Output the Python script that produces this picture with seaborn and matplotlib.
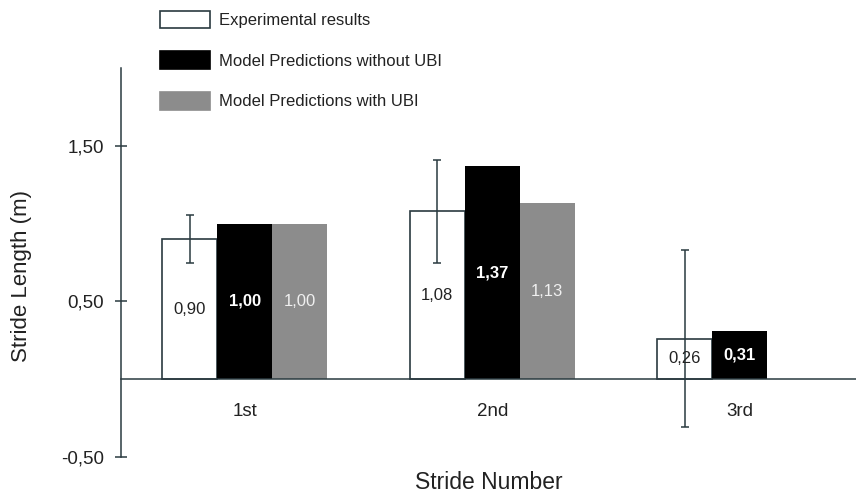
import matplotlib
matplotlib.use("Agg")
import matplotlib.pyplot as plt
import seaborn as sns
import pandas as pd
import numpy as np

strides = ["1st", "2nd", "3rd"]
experimental = [0.90, 1.08, 0.26]
experimental_err = [0.155, 0.33, 0.57]
model_without_ubi = [1.00, 1.37, 0.31]
model_with_ubi = [1.00, 1.13, np.nan]
series_names = ["Experimental results", "Model Predictions without UBI", "Model Predictions with UBI"]
ytick_vals = [-0.5, 0.5, 1.5]
ytick_labels = ["-0,50", "0,50", "1,50"]

rows = []
for name, vals in zip(series_names, [experimental, model_without_ubi, model_with_ubi]):
    for s, v in zip(strides, vals):
        rows.append({"Stride": s, "Series": name, "Length": v})
df = pd.DataFrame(rows)

sns.set_theme(style="white")
plt.rcParams["font.family"] = ["Liberation Sans", "DejaVu Sans"]
txt = "#222222"

fig = plt.figure(figsize=(8.56, 4.97), dpi=100)
ax = fig.add_axes([121/856, 40/497, 735/856, 389/497])

palette = {series_names[0]: "white", series_names[1]: "black", series_names[2]: "#8c8c8c"}
sns.barplot(data=df, x="Stride", y="Length", hue="Series", hue_order=series_names,
            order=strides, palette=palette, width=0.667, errorbar=None, ax=ax,
            saturation=1, linewidth=0)

edge = {0: "#2a3a40", 1: "black", 2: "#8c8c8c"}
for i, cont in enumerate(ax.containers):
    for p in cont.patches:
        p.set_edgecolor(edge[i])
        p.set_linewidth(1.2 if i == 0 else 0)
        p.set_zorder(2)

# error bars on experimental bars
exp_cont = ax.containers[0]
xs = [p.get_x() + p.get_width() / 2 for p in exp_cont.patches]
ax.errorbar(xs, experimental, yerr=experimental_err, fmt="none", ecolor="#2a3a40",
            elinewidth=1.1, capsize=3, capthick=1.1, zorder=3)

# value labels
label_styles = [(txt, "normal"), ("white", "bold"), ("#f0f0f0", "normal")]
for i, (cont, vals) in enumerate(zip(ax.containers, [experimental, model_without_ubi, model_with_ubi])):
    col, wt = label_styles[i]
    for p, v in zip(cont.patches, vals):
        if np.isnan(v):
            continue
        ax.text(p.get_x() + p.get_width() / 2, v / 2, f"{v:.2f}".replace(".", ","),
                ha="center", va="center", fontsize=12, color=col, fontweight=wt, zorder=4)

ax.set_ylim(-0.5, 2.0)
ax.set_xlim(-0.5, 2.47)
ax.set_yticks(ytick_vals)
ax.set_yticklabels(ytick_labels, fontsize=13.5, color=txt)
ax.tick_params(axis="y", direction="inout", length=8, width=1.1, color="#2a3a40", pad=8, left=True)
ax.tick_params(axis="x", length=0, pad=17, labelsize=13.5, labelcolor=txt)

for s in ["top", "right"]:
    ax.spines[s].set_visible(False)
ax.spines["bottom"].set_position(("data", 0))
ax.spines["bottom"].set_color("#2a3a40")
ax.spines["bottom"].set_linewidth(1.1)
ax.spines["left"].set_color("#2a3a40")
ax.spines["left"].set_linewidth(1.1)

ax.set_xlabel("")
ax.set_ylabel("")
ax.text(0.5, -0.065, "Stride Number", transform=ax.transAxes, ha="center", va="center",
        fontsize=16.5, color=txt)
ax.text(-0.135, 0.465, "Stride Length (m)", transform=ax.transAxes, ha="center", va="center",
        rotation=90, fontsize=16, color=txt)

leg = ax.legend(loc="upper left", bbox_to_anchor=(153/856, 1 - 4/497), bbox_transform=fig.transFigure,
                frameon=False, fontsize=12, handlelength=3.0, handleheight=1.25,
                labelspacing=1.38, handletextpad=0.55, borderaxespad=0)
for t in leg.get_texts():
    t.set_color(txt)
for h, c in zip(leg.legend_handles, ["white", "black", "#8c8c8c"]):
    h.set_facecolor(c)
    h.set_edgecolor("#2a3a40" if c == "white" else c)
    h.set_linewidth(1.2)

fig.savefig("out.png", dpi=100)
